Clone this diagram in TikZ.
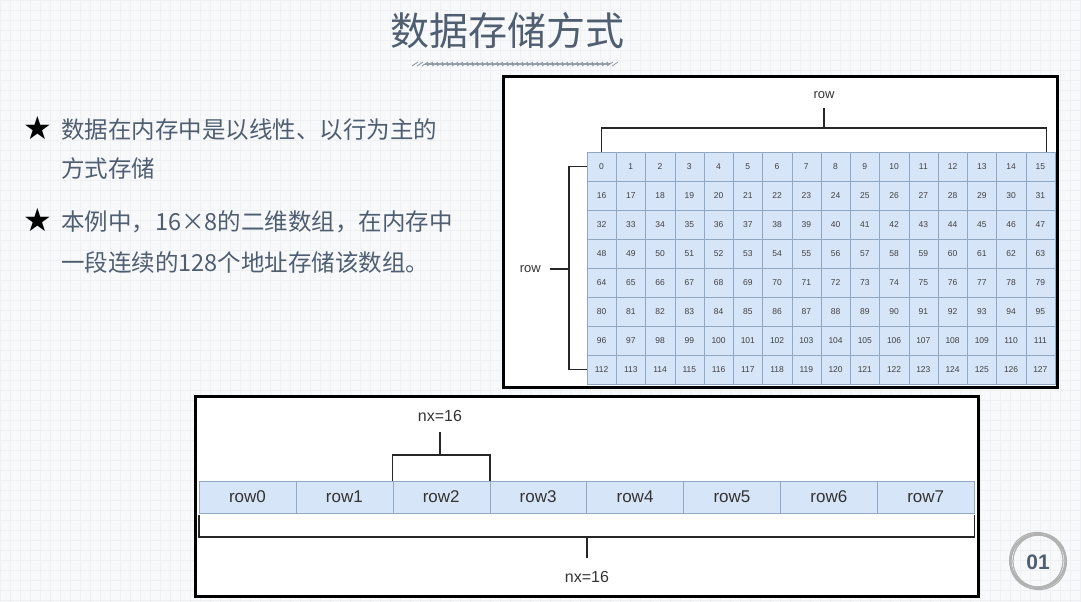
\documentclass[tikz,border=0pt]{standalone}
\usepackage{fontspec}
\setmainfont{Liberation Sans}
\newfontfamily\cjk{Noto Sans CJK SC}
\newfontfamily\djv{DejaVu Sans}
\definecolor{slate}{HTML}{4F5E70}
\definecolor{cellfill}{HTML}{D6E6F8}
\definecolor{cellline}{HTML}{8FA8C4}
\definecolor{bgc}{HTML}{F8F9FB}
\definecolor{gridc}{HTML}{EEF0F3}
\tikzset{
  cell/.style={draw=cellline,fill=cellfill,minimum width=29.25pt,minimum height=29pt,inner sep=0pt,font=\fontsize{8.5}{9}\selectfont,text=black!75},
  rowcell/.style={draw=cellline,fill=cellfill,minimum width=96.9pt,minimum height=32pt,inner sep=0pt,font=\fontsize{17}{19}\selectfont,text=black!80},
  frame/.style={draw=black,line width=3pt,fill=white},
  brk/.style={draw=black!85,line width=1.6pt},
  lbl/.style={font=\fontsize{13}{15}\selectfont,text=black!80,inner sep=1pt},
  bullet/.style={anchor=west,font=\cjk\fontsize{23.5}{26}\selectfont,text=slate,inner sep=0pt},
  starnode/.style={font=\djv\fontsize{32}{34}\selectfont,inner sep=0pt}
}
\begin{document}
\begin{tikzpicture}[x=1pt,y=-1pt]
\useasboundingbox (0,0) rectangle (1081,602);
\fill[bgc] (0,0) rectangle (1081,602);
\draw[gridc,line width=0.4pt,step=10pt] (0,0) grid (1081,602);
% title
\node[font=\cjk\fontsize{39}{42}\selectfont,text=slate] (title) at (507,31) {数据存储方式};
\foreach \i in {0,...,40}{
  \draw[slate!70,line width=0.7pt] ({412+5*\i},{66}) -- ({418+5*\i},{62});
}
\draw[slate!60,line width=1.8pt] (425,64) -- (610,64);
% bullets
\node[starnode] (s1) at (38,128) {★};
\node[bullet] (b1) at (61,130) {数据在内存中是以线性、以行为主的};
\node[bullet] (b1b) at (61,169) {方式存储};
\node[starnode] (s2) at (38,220) {★};
\node[bullet] (b2) at (61,222) {本例中，16×8的二维数组，在内存中};
\node[bullet] (b2b) at (61,263) {一段连续的128个地址存储该数组。};
% top-right frame
\draw[frame] (503,76) rectangle (1057,387);
\foreach \r in {0,...,7}{
  \foreach \c in {0,...,15}{
    \pgfmathtruncatemacro{\v}{\r*16+\c}
    \node[cell] (g\v) at ({601.6+29.25*\c},{166.5+29*\r}) {\v};
  }
}
\coordinate (tstem) at (824,108);
\draw[brk] (g0.north) -- ++(0,-24) -| ([xshift=6pt]g15.north);
\draw[brk] (824,128) -- (tstem);
\node[lbl] (rowtop) at (824,95) {row};
\draw[brk] (g0.west) -- ++(-18,0) |- (g112.west);
\node[lbl,anchor=east] (rowleft) at (542,269) {row};
\draw[brk] (rowleft.east) ++(8,0) -- (569,269);
% bottom frame
\draw[frame] (195,396) rectangle (978,596);
\foreach \i in {0,...,7}{
  \node[rowcell] (r\i) at ({247.45+96.9*\i},497) {row\i};
}
\draw[brk] (r2.north west) -- ++(0,-26) -| (r2.north east);
\draw[brk] (440,455) -- (440,432);
\node[lbl,font=\fontsize{16}{18}\selectfont] (nxt) at (440,416) {nx=16};
\draw[brk] ([yshift=-2pt]r0.south west) -- (r0.south west |- 0,537) -| ([yshift=-2pt]r7.south east);
\draw[brk] (587,537) -- (587,558);
\node[lbl,font=\fontsize{16}{18}\selectfont] (nxb) at (587,577) {nx=16};
% logo
\foreach \a/\rr in {0/27,40/28.5,80/26,130/29,200/27.5}{
  \draw[black!30,line width=1.2pt,rotate around={\a:(1038,561)}] (1038,561) ellipse ({\rr pt} and {\rr pt - 1pt});
}
\node[font=\bfseries\fontsize{21}{24}\selectfont,text=slate] (logo) at (1038,562) {01};
\end{tikzpicture}
\end{document}
